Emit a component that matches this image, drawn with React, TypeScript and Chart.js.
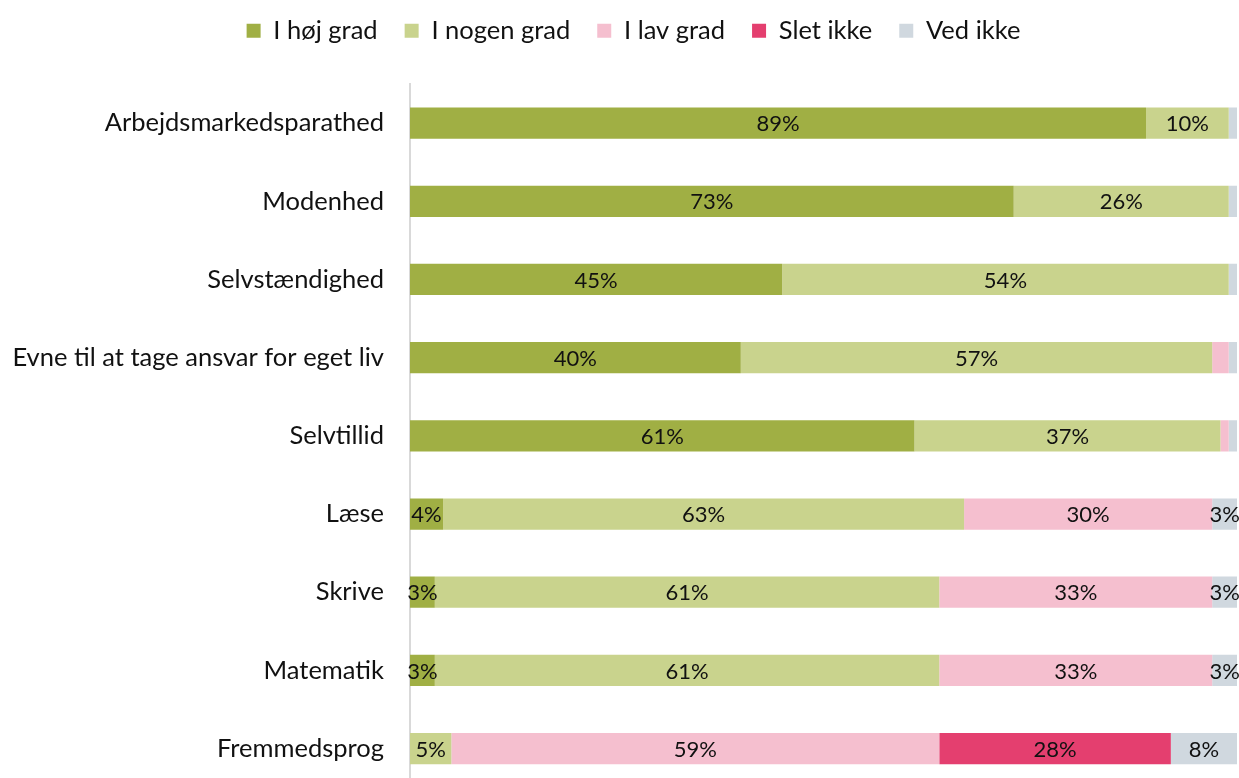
import React, { useEffect, useRef } from "react";
import { Chart, registerables } from "chart.js";

Chart.register(...registerables);

const categories = [
  "Arbejdsmarkedsparathed",
  "Modenhed",
  "Selvstændighed",
  "Evne til at tage ansvar for eget liv",
  "Selvtillid",
  "Læse",
  "Skrive",
  "Matematik",
  "Fremmedsprog",
];

const seriesNames = ["I høj grad", "I nogen grad", "I lav grad", "Slet ikke", "Ved ikke"];
const seriesColors = ["#a0af44", "#c9d38d", "#f5bfcf", "#e43f6f", "#d0d8df"];

const hojGrad = [89, 73, 45, 40, 61, 4, 3, 3, 0];
const nogenGrad = [10, 26, 54, 57, 37, 63, 61, 61, 5];
const lavGrad = [0, 0, 0, 2, 1, 30, 33, 33, 59];
const sletIkke = [0, 0, 0, 0, 0, 0, 0, 0, 28];
const vedIkke = [1, 1, 1, 1, 1, 3, 3, 3, 8];

const seriesValues = [hojGrad, nogenGrad, lavGrad, sletIkke, vedIkke];

const barLabelPlugin = {
  id: "barLabels",
  afterDatasetsDraw(chart: any) {
    const ctx = chart.ctx;
    ctx.save();
    ctx.font = "22px Lato";
    ctx.fillStyle = "#111111";
    ctx.textAlign = "center";
    ctx.textBaseline = "middle";
    chart.data.datasets.forEach((ds: any, di: number) => {
      const meta = chart.getDatasetMeta(di);
      meta.data.forEach((el: any, i: number) => {
        const v = ds.data[i];
        if (v >= 3) {
          const cx = (el.x + el.base) / 2;
          ctx.fillText(v + "%", cx, el.y + 1);
        }
      });
    });
    ctx.restore();
  },
};

const legendSpacing = {
  id: "legendSpacing",
  beforeInit(chart: any) {
    const legend = chart.legend;
    if (!legend) return;
    const orig = legend.fit;
    legend.fit = function () {
      orig.bind(legend)();
      this.height = 84;
    };
  },
  afterLayout(chart: any) {
    const legend = chart.legend;
    if (!legend) return;
    legend.top -= 9;
    legend.bottom -= 9;
    legend.left += 15;
    legend.right += 15;
  },
};

export default function App() {
  const ref = useRef<HTMLCanvasElement | null>(null);

  useEffect(() => {
    if (!ref.current) return;
    Chart.defaults.font.family = "Lato";
    Chart.defaults.color = "#111111";
    const chart = new Chart(ref.current, {
      type: "bar",
      data: {
        labels: categories,
        datasets: seriesNames.map((name, i) => ({
          label: name,
          data: seriesValues[i],
          backgroundColor: seriesColors[i],
          borderWidth: 0,
          categoryPercentage: 1,
          barPercentage: 0.4,
        })),
      },
      options: {
        indexAxis: "y",
        animation: false,
        responsive: false,
        maintainAspectRatio: false,
        layout: { padding: { top: 0, right: 2, bottom: 3, left: 0 } },
        plugins: {
          legend: {
            position: "top",
            labels: {
              font: { size: 25.5 },
              boxWidth: 14,
              boxHeight: 14,
              padding: 27,
              color: "#111111",
            },
          },
          tooltip: { enabled: false },
        },
        scales: {
          x: {
            stacked: true,
            min: 0,
            max: 100,
            display: false,
          },
          y: {
            stacked: true,
            grid: { display: false, drawTicks: false },
            border: { display: true, color: "#d9d9d9", width: 2 },
            ticks: { font: { size: 25.5 }, padding: 26, color: "#111111" },
            afterFit(scale: any) {
              scale.width = 410;
            },
          },
        },
      } as any,
      plugins: [barLabelPlugin, legendSpacing],
    });
    return () => chart.destroy();
  }, []);

  return (
    <div style={{ position: "fixed", left: 0, top: 0, width: 1239, height: 778, overflow: "hidden", background: "#fff" }}>
      <canvas ref={ref} width={1239} height={829} style={{ display: "block" }} />
    </div>
  );
}
